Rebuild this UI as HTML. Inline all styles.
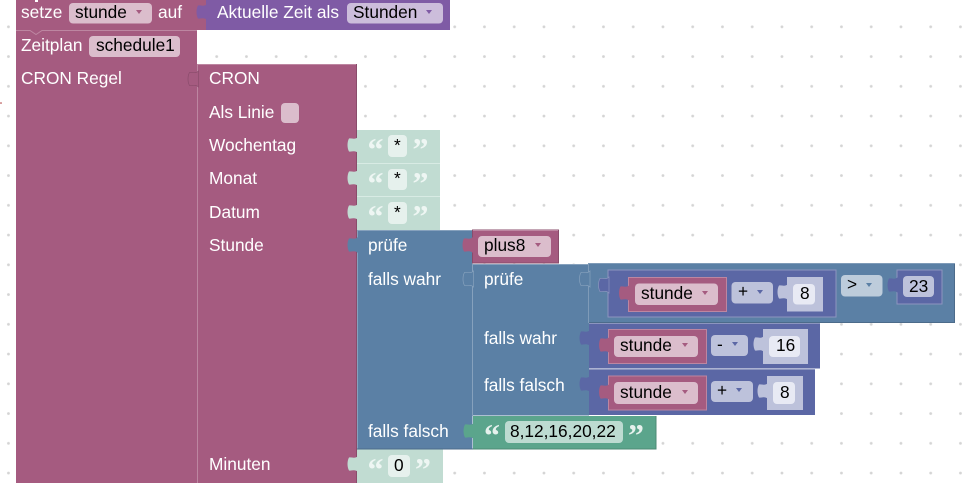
<!DOCTYPE html>
<html><head><meta charset="utf-8"><style>
html,body{margin:0;padding:0;background:#fff;width:963px;height:483px;overflow:hidden}
svg{display:block}
text{font-family:"Liberation Sans",sans-serif;font-size:17.3px}
.w{fill:#fff}.k{fill:#000}
.q{font-family:"Liberation Serif",serif;font-weight:bold;font-size:32px}
</style></head><body>
<svg width="963" height="483" viewBox="0 0 963 483" xmlns="http://www.w3.org/2000/svg">
<defs>
<pattern id="d" x="0" y="0" width="29.75" height="29.75" patternUnits="userSpaceOnUse" patternTransform="translate(216.7 26.8)"><circle cx="0" cy="0" r="1.4" fill="#d4d4d4"/><circle cx="29.75" cy="0" r="1.4" fill="#d4d4d4"/><circle cx="0" cy="29.75" r="1.4" fill="#d4d4d4"/><circle cx="29.75" cy="29.75" r="1.4" fill="#d4d4d4"/></pattern>
<path id="t" d="M1,0C-2,3 -5,1 -8,1.500C-10,5 -10,11 -8,14.500C-5,15 -2,13 1,16z"/>
<path id="v" d="M-3,-2 l6,0 l-3,4z"/>
</defs>
<rect width="963" height="483" fill="url(#d)"/>
<circle cx="1" cy="103" r="0.8" fill="#a33"/>

<!-- top row -->
<rect x="16" y="0" width="190" height="30" fill="#a55b80"/>
<rect x="35" y="0" width="3" height="2" fill="#fff"/>
<rect x="206" y="0" width="244" height="30" fill="#7f5ba5"/>
<use href="#t" x="206" y="4" fill="#7f5ba5"/>
<rect x="69" y="3" width="83" height="20.500" rx="4" fill="#dbbdcc"/>
<rect x="347" y="3" width="96" height="20.500" rx="4" fill="#ccbddb"/>
<text x="21" y="18" class="w">setze</text><text x="75" y="18" class="k">stunde</text><use href="#v" x="139" y="12" fill="#a55b80"/><text x="158" y="18" class="w">auf</text>
<text x="217" y="18" class="w">Aktuelle Zeit als</text><text x="353" y="18" class="k">Stunden</text><use href="#v" x="429" y="12" fill="#7f5ba5"/>

<!-- Zeitplan -->
<rect x="16" y="30" width="181" height="453" fill="#a55b80"/>
<path d="M16 30.500H30l6 4 6-4H197" fill="none" stroke="#bd86a1" stroke-width="1"/>
<rect x="89" y="36" width="91" height="21" rx="4" fill="#dbbdcc"/>
<text x="21" y="51" class="w">Zeitplan</text><text x="96" y="51" class="k">schedule1</text>
<text x="21" y="84" class="w">CRON Regel</text>

<!-- CRON -->
<rect x="197" y="64" width="159.500" height="419" fill="#a55b80"/>
<path d="M197.500 483V64.500H356" fill="none" stroke="#bd86a1"/>
<path d="M356.500 64V483" stroke="#8a4c6b"/>
<use href="#t" x="197.500" y="71" fill="#a55b80" stroke="#8a4c6b" stroke-width=".7"/>
<text x="209" y="84" class="w">CRON</text>
<text x="209" y="118" class="w">Als Linie</text>
<rect x="281" y="103" width="18" height="20" rx="4" fill="#dbbdcc"/>
<text x="209" y="151" class="w">Wochentag</text>
<text x="209" y="184" class="w">Monat</text>
<text x="209" y="218" class="w">Datum</text>
<text x="209" y="251" class="w">Stunde</text>
<text x="209" y="470" class="w">Minuten</text>

<!-- mint strings -->
<rect x="357" y="130" width="83" height="33" fill="#c1dcd2"/>
<rect x="357" y="163" width="83" height="33" fill="#c1dcd2"/>
<rect x="357" y="196.500" width="83" height="34" fill="#c1dcd2"/>
<path d="M357 163.500H440M357 196.500H440" stroke="#d8ebe4"/>
<use href="#t" x="357" y="137" fill="#c1dcd2"/><use href="#t" x="357" y="170" fill="#c1dcd2"/><use href="#t" x="357" y="204" fill="#c1dcd2"/>
<rect x="388" y="135" width="19" height="22" rx="4" fill="#e6f1ed"/>
<rect x="388" y="169" width="19" height="21" rx="4" fill="#e6f1ed"/>
<rect x="388" y="202" width="19" height="22" rx="4" fill="#e6f1ed"/>
<text x="394" y="151" class="k">*</text><text x="394" y="184" class="k">*</text><text x="394" y="218" class="k">*</text>
<text x="367.500" y="160" class="q" fill="#eef6f3">“</text><text x="412.500" y="160" class="q" fill="#eef6f3">”</text>
<text x="367.500" y="194" class="q" fill="#eef6f3">“</text><text x="412.500" y="194" class="q" fill="#eef6f3">”</text>
<text x="367.500" y="227" class="q" fill="#eef6f3">“</text><text x="412.500" y="227" class="q" fill="#eef6f3">”</text>

<rect x="357" y="449" width="86" height="34" fill="#c1dcd2"/>
<use href="#t" x="357" y="456" fill="#c1dcd2"/>
<rect x="388" y="455" width="22" height="22" rx="4" fill="#e6f1ed"/>
<text x="394" y="471" class="k">0</text>
<text x="367.500" y="480" class="q" fill="#eef6f3">“</text><text x="415" y="480" class="q" fill="#eef6f3">”</text>

<!-- outer if -->
<rect x="357" y="230" width="115.500" height="219" fill="#5b80a5"/>
<path d="M357.500 449V230.500H472" fill="none" stroke="#86a1bd"/>
<path d="M357 449H473" stroke="#4c6b8a"/>
<use href="#t" x="357" y="237" fill="#5b80a5"/>
<text x="368" y="251" class="w">prüfe</text>
<text x="368" y="285" class="w">falls wahr</text>
<text x="368" y="437" class="w">falls falsch</text>

<!-- plus8 -->
<rect x="472.500" y="230" width="86" height="33" fill="#a55b80" stroke="#8a4c6b"/>
<path d="M473 230.500H558" stroke="#bd86a1"/>
<use href="#t" x="472" y="237" fill="#a55b80"/>
<rect x="478" y="236" width="73" height="21" rx="4" fill="#dbbdcc"/>
<text x="484" y="251" class="k">plus8</text><use href="#v" x="538" y="245" fill="#a55b80"/>

<!-- inner if -->
<rect x="472" y="264" width="117" height="151.500" fill="#5b80a5"/>
<path d="M472.500 415V264.500H589" fill="none" stroke="#86a1bd"/>
<use href="#t" x="472.500" y="271" fill="#5b80a5" stroke="#86a1bd" stroke-width=".7"/>
<text x="484" y="285" class="w">prüfe</text>
<text x="484" y="344" class="w">falls wahr</text>
<text x="484" y="391" class="w">falls falsch</text>

<!-- condition -->
<rect x="588.500" y="263.500" width="366" height="59" fill="#5b80a5" stroke="#7f9bb8"/>
<path d="M589 322.500H954.500V264" fill="none" stroke="#4c6b8a"/>
<use href="#t" x="589" y="271" fill="#5b80a5" stroke="#86a1bd" stroke-width=".7"/>

<rect x="608" y="270" width="228" height="47" fill="#5b67a5" stroke="#8c95bf"/>
<use href="#t" x="608" y="277" fill="#5b67a5" stroke="#8c95bf" stroke-width=".7"/>
<rect x="628.500" y="277.500" width="98" height="34" fill="#a55b80" stroke="#bd86a1"/>
<use href="#t" x="628.500" y="285" fill="#a55b80"/>
<rect x="635" y="283.500" width="83" height="21.500" rx="4" fill="#dbbdcc"/>
<text x="641" y="299" class="k">stunde</text><use href="#v" x="705" y="293" fill="#a55b80"/>
<rect x="731.500" y="282" width="41.500" height="21.500" rx="4" fill="#bdc2db"/>
<text x="738" y="297" class="k">+</text><use href="#v" x="760" y="292" fill="#5b67a5"/>
<rect x="787" y="277" width="36" height="34.500" fill="#bdc2db"/>
<use href="#t" x="787" y="284" fill="#bdc2db"/>
<rect x="793" y="284" width="22" height="20.500" rx="4" fill="#e8eaf4"/>
<text x="800" y="299" class="k">8</text>

<rect x="841" y="275" width="41.500" height="21.500" rx="4" fill="#bdccdb"/>
<text x="847" y="290" class="k">&gt;</text><use href="#v" x="869" y="285" fill="#5b80a5"/>
<rect x="897" y="270" width="45" height="34" fill="#5b67a5" stroke="#8c95bf"/>
<use href="#t" x="897" y="277" fill="#5b67a5"/>
<rect x="903" y="276" width="31" height="21" rx="4" fill="#bdc2db"/>
<text x="909" y="292" class="k">23</text>

<!-- row 2 -->
<rect x="589" y="323" width="231" height="45.500" fill="#5b67a5"/>
<path d="M589 323.500H820" stroke="#8c95bf"/>
<use href="#t" x="589" y="330" fill="#5b67a5"/>
<rect x="608.500" y="329.500" width="98" height="34" fill="#a55b80" stroke="#bd86a1"/>
<use href="#t" x="608.500" y="337" fill="#a55b80"/>
<rect x="614" y="336" width="84" height="21" rx="4" fill="#dbbdcc"/>
<text x="620" y="351" class="k">stunde</text><use href="#v" x="685" y="345" fill="#a55b80"/>
<rect x="711" y="335" width="37" height="21" rx="4" fill="#bdc2db"/>
<text x="717" y="350" class="k">-</text><use href="#v" x="735" y="344" fill="#5b67a5"/>
<rect x="763" y="329" width="45" height="35" fill="#bdc2db"/>
<use href="#t" x="763" y="336" fill="#bdc2db"/>
<rect x="769" y="336" width="31" height="21" rx="4" fill="#e8eaf4"/>
<text x="776" y="351" class="k">16</text>

<!-- row 3 -->
<rect x="589" y="369" width="226" height="46" fill="#5b67a5"/>
<path d="M589 369.500H815" stroke="#8c95bf"/>
<use href="#t" x="589" y="376" fill="#5b67a5"/>
<rect x="608.500" y="376" width="98" height="34" fill="#a55b80" stroke="#bd86a1"/>
<use href="#t" x="608.500" y="384" fill="#a55b80"/>
<rect x="614" y="382" width="84" height="22" rx="4" fill="#dbbdcc"/>
<text x="620" y="398" class="k">stunde</text><use href="#v" x="685" y="392" fill="#a55b80"/>
<rect x="711" y="381" width="42" height="21" rx="4" fill="#bdc2db"/>
<text x="717" y="396" class="k">+</text><use href="#v" x="739" y="390" fill="#5b67a5"/>
<rect x="767" y="376" width="36" height="34" fill="#bdc2db"/>
<use href="#t" x="767" y="383" fill="#bdc2db"/>
<rect x="773" y="382" width="22" height="22" rx="4" fill="#e8eaf4"/>
<text x="780" y="398" class="k">8</text>

<!-- green string -->
<rect x="473" y="416" width="183" height="33" fill="#5ba58c"/>
<path d="M656 416V449H473" fill="none" stroke="#4c8a75"/>
<use href="#t" x="473" y="423" fill="#5ba58c"/>
<rect x="505" y="421" width="118" height="22" rx="4" fill="#bddbd1"/>
<text x="510" y="437" class="k">8,12,16,20,22</text>
<text x="484" y="446" class="q" fill="#e6f1ed">“</text><text x="628" y="446" class="q" fill="#e6f1ed">”</text>
</svg>
</body></html>
